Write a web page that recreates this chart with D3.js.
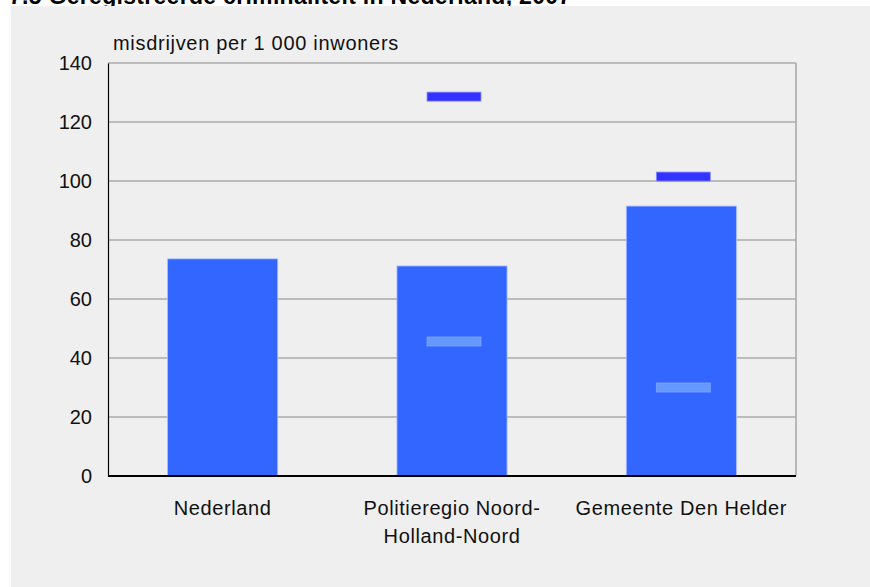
<!DOCTYPE html>
<html lang="nl">
<head>
<meta charset="UTF-8">
<title>Geregistreerde criminaliteit</title>
<script src="https://d3js.org/d3.v7.min.js"></script>
<style>
    body { margin: 0; background: #fff; }
    svg { display: block; font-family: "Liberation Sans", Arial, sans-serif; }
</style>
</head>
<body>
<div id="container"></div>
<script>
    // gegevens
    var categories = [["Nederland"], ["Politieregio Noord-", "Holland-Noord"], ["Gemeente Den Helder"]];
    var values = [73.6, 71.2, 91.5];
    var highest = [null, 128.6, 101.5];   // donkere streep
    var lowest = [null, 45.6, 30.0];      // lichte streep
    var yTicks = [0, 20, 40, 60, 80, 100, 120, 140];

    var width = 870, height = 587;
    var plotLeft = 108, plotRight = 796, plotTop = 63, plotBottom = 476;

    var svg = d3.select("#container").append("svg")
        .attr("width", width)
        .attr("height", height);

    // titel (valt grotendeels buiten beeld, zoals in het origineel)
    svg.append("text")
        .attr("x", 9)
        .attr("y", 4)
        .attr("font-size", 23)
        .attr("font-weight", "bold")
        .attr("letter-spacing", 0.3)
        .attr("fill", "#000")
        .text("7.5 Geregistreerde criminaliteit in Nederland, 2007");

    svg.append("rect")
        .attr("x", 11).attr("y", 6)
        .attr("width", width - 11).attr("height", height - 6)
        .attr("fill", "#efefef");

    var x = d3.scaleBand()
        .domain(d3.range(categories.length))
        .range([plotLeft, plotRight])
        .paddingInner(0.52)
        .paddingOuter(0.26);

    var y = d3.scaleLinear()
        .domain([0, 140])
        .range([plotBottom, plotTop]);

    // rasterlijnen
    svg.append("g")
        .selectAll("line")
        .data(yTicks.filter(d => d > 0))
        .enter().append("line")
        .attr("x1", plotLeft).attr("x2", plotRight)
        .attr("y1", d => y(d)).attr("y2", d => y(d))
        .attr("stroke", "#ababab")
        .attr("stroke-width", 1.6);

    svg.append("line")
        .attr("x1", plotRight).attr("x2", plotRight)
        .attr("y1", plotTop).attr("y2", plotBottom)
        .attr("stroke", "#ababab")
        .attr("stroke-width", 1.6);

    // y-as
    var yAxis = svg.append("g")
        .attr("transform", "translate(" + plotLeft + ",0)")
        .call(d3.axisLeft(y).tickValues(yTicks).tickSize(0).tickPadding(16));
    yAxis.select(".domain").attr("stroke", "#000").attr("stroke-width", 1.2);
    yAxis.selectAll("text")
        .attr("font-size", 20)
        .attr("font-family", "Liberation Sans, Arial, sans-serif")
        .attr("fill", "#111");

    svg.append("text")
        .attr("x", 113)
        .attr("y", 50)
        .attr("font-size", 20)
        .attr("letter-spacing", 0.7)
        .attr("fill", "#111")
        .text("misdrijven per 1 000 inwoners");

    // staven
    svg.append("g")
        .selectAll("rect")
        .data(values)
        .enter().append("rect")
        .attr("x", (d, i) => x(i))
        .attr("y", d => y(d))
        .attr("width", x.bandwidth())
        .attr("height", d => plotBottom - y(d))
        .attr("fill", "#3366ff")
        .attr("stroke", "#a8bcff")
        .attr("stroke-width", 0.8);

    // strepen
    var mw = x.bandwidth() * 0.49, mh = 9;
    function marks(data, fill, stroke) {
        svg.append("g")
            .selectAll("rect")
            .data(data.map((v, i) => ({ v: v, i: i })).filter(d => d.v != null))
            .enter().append("rect")
            .attr("x", d => x(d.i) + x.bandwidth() / 2 - mw / 2 + 2)
            .attr("y", d => y(d.v) - mh / 2)
            .attr("width", mw)
            .attr("height", mh)
            .attr("fill", fill)
            .attr("stroke", stroke)
            .attr("stroke-width", 0.8);
    }
    marks(highest, "#3333ff", "#8a8aff");
    marks(lowest, "#6699ff", "#7fa6ff");

    // x-as
    svg.append("line")
        .attr("x1", plotLeft).attr("x2", plotRight)
        .attr("y1", plotBottom).attr("y2", plotBottom)
        .attr("stroke", "#000")
        .attr("stroke-width", 2);

    var labels = svg.append("g")
        .selectAll("text")
        .data(categories)
        .enter().append("text")
        .attr("x", (d, i) => x(i) + x.bandwidth() / 2)
        .attr("y", plotBottom + 39)
        .attr("text-anchor", "middle")
        .attr("font-size", 20)
        .attr("letter-spacing", 0.6)
        .attr("fill", "#111");
    labels.selectAll("tspan")
        .data(d => d)
        .enter().append("tspan")
        .attr("x", function () { return d3.select(this.parentNode).attr("x"); })
        .attr("dy", (d, i) => i === 0 ? 0 : 28)
        .text(d => d);
</script>
</body>
</html>
